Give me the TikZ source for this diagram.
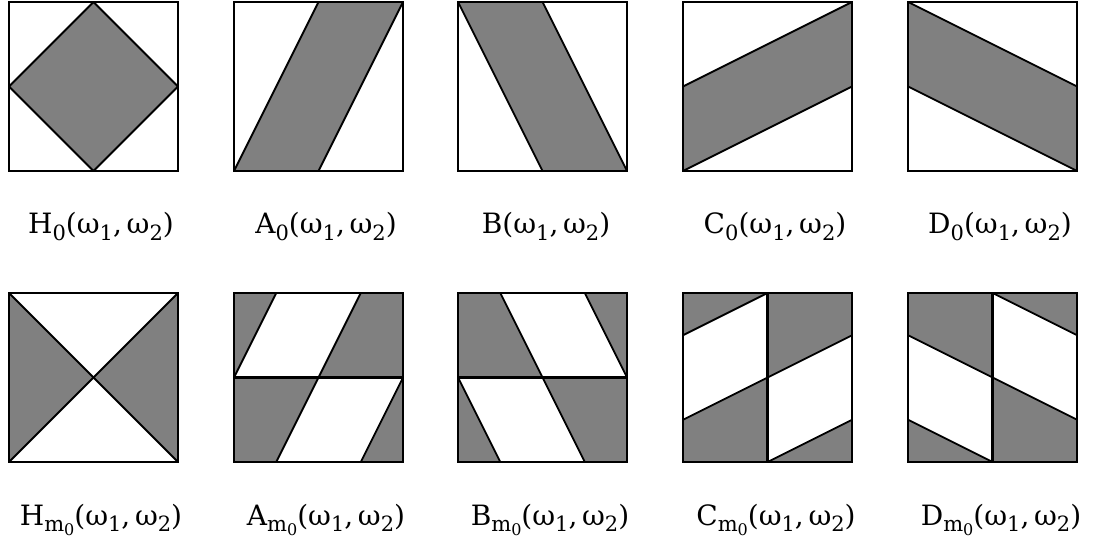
\documentclass[tikz,border=0pt]{standalone}
\usepackage{fontspec}
\setmainfont{DejaVu Serif}
\usetikzlibrary{positioning}

\newcommand{\lowsub}[1]{\raisebox{-0.22em}{\fontsize{10.5}{11}\selectfont #1}}
\newcommand{\mzero}{m\raisebox{-0.2em}{\fontsize{8}{9}\selectfont 0}}

\tikzset{
    tile/.style={shift={(#1)}, x=84.5pt, y=84.5pt},
    frame/.style={draw, line width=1.3pt},
    band/.style={draw, fill=gray, line width=0.9pt, line join=round},
    hole/.style={draw, fill=white, line width=0.9pt, line join=round},
    split/.style={draw, line width=1.1pt},
    caption/.style={anchor=base, inner sep=0pt, font=\fontsize{14}{16}\selectfont}
}

\begin{document}
\begin{tikzpicture}[x=0.5pt, y=0.5pt]
    \useasboundingbox (0,0) rectangle (1101,546);

    % Top row: single bands
    \begin{scope}[tile={9,375}]
        \draw[band] (0.5,0) -- (1,0.5) -- (0.5,1) -- (0,0.5) -- cycle;
        \draw[frame] (0,0) rectangle (1,1);
    \end{scope}
    \begin{scope}[tile={234,375}]
        \draw[band] (0,0) -- (0.5,0) -- (1,1) -- (0.5,1) -- cycle;
        \draw[frame] (0,0) rectangle (1,1);
    \end{scope}
    \begin{scope}[tile={458,375}]
        \draw[band] (0,1) -- (0.5,1) -- (1,0) -- (0.5,0) -- cycle;
        \draw[frame] (0,0) rectangle (1,1);
    \end{scope}
    \begin{scope}[tile={683,375}]
        \draw[band] (0,0) -- (1,0.5) -- (1,1) -- (0,0.5) -- cycle;
        \draw[frame] (0,0) rectangle (1,1);
    \end{scope}
    \begin{scope}[tile={908,375}]
        \draw[band] (0,1) -- (1,0.5) -- (1,0) -- (0,0.5) -- cycle;
        \draw[frame] (0,0) rectangle (1,1);
    \end{scope}

    % Bottom row: shifted copies
    \begin{scope}[tile={9,84}]
        \draw[band] (0,0) -- (0.5,0.5) -- (0,1) -- cycle;
        \draw[band] (1,0) -- (0.5,0.5) -- (1,1) -- cycle;
        \draw[frame] (0,0) rectangle (1,1);
    \end{scope}
    \begin{scope}[tile={234,84}]
        \fill[gray] (0,0) rectangle (1,1);
        \draw[hole] (0,0.5) -- (0.5,0.5) -- (0.75,1) -- (0.25,1) -- cycle;
        \draw[hole] (0.25,0) -- (0.75,0) -- (1,0.5) -- (0.5,0.5) -- cycle;
        \draw[split] (0,0.5) -- (1,0.5);
        \draw[frame] (0,0) rectangle (1,1);
    \end{scope}
    \begin{scope}[tile={458,84}]
        \fill[gray] (0,0) rectangle (1,1);
        \draw[hole] (0.25,1) -- (0.75,1) -- (1,0.5) -- (0.5,0.5) -- cycle;
        \draw[hole] (0,0.5) -- (0.5,0.5) -- (0.75,0) -- (0.25,0) -- cycle;
        \draw[split] (0,0.5) -- (1,0.5);
        \draw[frame] (0,0) rectangle (1,1);
    \end{scope}
    \begin{scope}[tile={683,84}]
        \fill[gray] (0,0) rectangle (1,1);
        \draw[hole] (0,0.25) -- (0.5,0.5) -- (0.5,1) -- (0,0.75) -- cycle;
        \draw[hole] (0.5,0) -- (1,0.25) -- (1,0.75) -- (0.5,0.5) -- cycle;
        \draw[split] (0.5,0) -- (0.5,1);
        \draw[frame] (0,0) rectangle (1,1);
    \end{scope}
    \begin{scope}[tile={908,84}]
        \fill[gray] (0,0) rectangle (1,1);
        \draw[hole] (0,0.75) -- (0.5,0.5) -- (0.5,0) -- (0,0.25) -- cycle;
        \draw[hole] (0.5,1) -- (1,0.75) -- (1,0.25) -- (0.5,0.5) -- cycle;
        \draw[split] (0.5,0) -- (0.5,1);
        \draw[frame] (0,0) rectangle (1,1);
    \end{scope}

    % Captions
    \node[caption] (capH) at (101,312) {H\lowsub{0}(ω\lowsub{1},\,ω\lowsub{2})};
    \node[caption] (capA) at (326,312) {A\lowsub{0}(ω\lowsub{1},\,ω\lowsub{2})};
    \node[caption] (capB) at (546,312) {B(ω\lowsub{1},\,ω\lowsub{2})};
    \node[caption] (capC) at (775,312) {C\lowsub{0}(ω\lowsub{1},\,ω\lowsub{2})};
    \node[caption] (capD) at (1000,312) {D\lowsub{0}(ω\lowsub{1},\,ω\lowsub{2})};

    \node[caption] (capHm) at (101,21) {H\lowsub{\mzero}(ω\lowsub{1},\,ω\lowsub{2})};
    \node[caption] (capAm) at (326,21) {A\lowsub{\mzero}(ω\lowsub{1},\,ω\lowsub{2})};
    \node[caption] (capBm) at (550,21) {B\lowsub{\mzero}(ω\lowsub{1},\,ω\lowsub{2})};
    \node[caption] (capCm) at (776,21) {C\lowsub{\mzero}(ω\lowsub{1},\,ω\lowsub{2})};
    \node[caption] (capDm) at (1001,21) {D\lowsub{\mzero}(ω\lowsub{1},\,ω\lowsub{2})};
\end{tikzpicture}
\end{document}
